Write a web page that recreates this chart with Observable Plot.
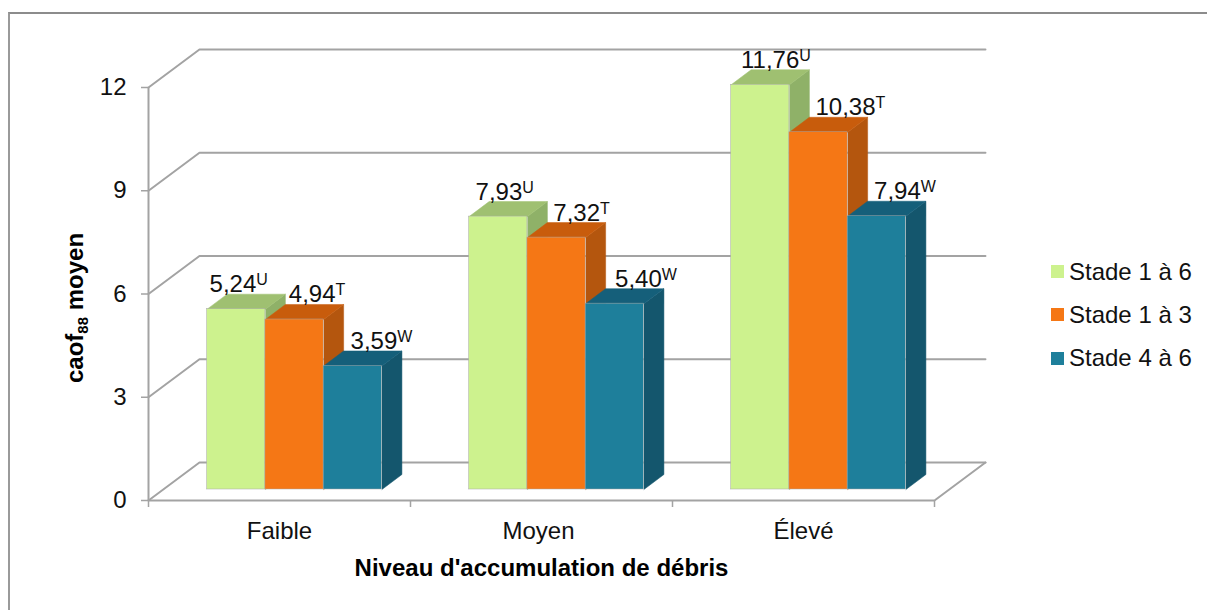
<!DOCTYPE html>
<html lang="fr">
<head>
<meta charset="utf-8">
<script src="https://cdn.jsdelivr.net/npm/d3@7"></script>
<script src="https://cdn.jsdelivr.net/npm/@observablehq/plot@0.6"></script>
<style>
  html, body { margin: 0; padding: 0; background: #fff; }
  #wrap { position: relative; width: 1207px; height: 610px; overflow: hidden; font-family: "Liberation Sans", Arial, sans-serif; }
  #frame { position: absolute; left: 8px; top: 12px; right: 0; bottom: 0; border-top: 2px solid #8c8c8c; border-left: 2px solid #9a9a9a; pointer-events: none; }
  #chart { position: absolute; left: 0; top: 0; }
  #chart svg { display: block; }
  #legend { position: absolute; left: 1051px; top: 250px; font-size: 24px; color: #111; }
  #legend div { display: flex; align-items: center; height: 43.3px; white-space: nowrap; }
  #legend i { display: inline-block; width: 13px; height: 13px; margin-right: 5px; }
</style>
</head>
<body>
<div id="wrap">
  <div id="frame"></div>
  <div id="chart"></div>
  <div id="legend"></div>
</div>
<script>
const categories = ["Faible", "Moyen", "Élevé"];
const seriesNames = ["Stade 1 à 6", "Stade 1 à 3", "Stade 4 à 6"];
const stade1a6 = [5.24, 7.93, 11.76];
const stade1a3 = [4.94, 7.32, 10.38];
const stade4a6 = [3.59, 5.40, 7.94];
const superscripts = ["U", "T", "W"];
const yTicks = [0, 3, 6, 9, 12];

const seriesValues = [stade1a6, stade1a3, stade4a6];
const frontColors = ["#cdf28e", "#f57715", "#1e7f9b"];
const topColors = ["#9fc071", "#c85c0c", "#155f7a"];
const sideColors = ["#8fb168", "#b4560e", "#14566d"];

// Oblique projection of the chart's depth axis, expressed in data units
const pxX = 262.2, pxY = 34.42;
const wall = {dx: 51 / pxX, dy: 38 / pxY};      // floor/wall depth
const base = {dx: 14 / pxX, dy: 11 / pxY};      // bars sit this far into the floor
const depth = {dx: 20 / pxX, dy: 15 / pxY};     // depth of a bar
const barStart = 58.7 / pxX, barWidth = 58.3 / pxX;
// Horizontal shift of each data label from its bar's top centre (series × category)
const labelNudge = [[0, 4, 19], [21, 23.5, 37], [24.5, 27, 24]];
const categoryNudge = [0, -3, 0];

const bars = seriesValues.map((vals, s) => vals.map((v, c) => {
  const x0 = c + barStart + s * barWidth;
  const x1 = x0 + barWidth;
  return {s, c, v, x0, x1, y0: base.dy, y1: base.dy + v};
}));

function poly(points, fill) {
  return Plot.line(points, {x: "0", y: "1", fill, stroke: fill, strokeWidth: 0.5, curve: "linear"});
}

const gridColor = "#a3a3a3";
const [xMax, yMax] = [categories.length, 12];
const tickX = 7 / pxX, tickY = 7 / pxY;

const gridMarks = yTicks.map(t =>
  Plot.line([[0, t], [wall.dx, t + wall.dy], [xMax + wall.dx, t + wall.dy]],
    {x: "0", y: "1", stroke: gridColor, strokeWidth: 2, curve: "linear"})
);

const barMarks = seriesValues.flatMap((_, s) => bars[s].flatMap(b => [
  poly([[b.x1, b.y0], [b.x1 + depth.dx, b.y0 + depth.dy], [b.x1 + depth.dx, b.y1 + depth.dy], [b.x1, b.y1]], sideColors[s]),
  poly([[b.x0, b.y1], [b.x0 + depth.dx, b.y1 + depth.dy], [b.x1 + depth.dx, b.y1 + depth.dy], [b.x1, b.y1]], topColors[s]),
  Plot.rect([b], {x1: "x0", x2: "x1", y1: "y0", y2: "y1", fill: frontColors[s], stroke: "#a8a8a8", strokeWidth: 0.5})
]));

const labelRows = bars.flat().map(b => ({
  x: (b.x0 + b.x1) / 2 + depth.dx + labelNudge[b.s][b.c] / pxX,
  y: b.y1 + depth.dy,
  text: d3.format(".2f")(b.v).replace(".", ","),
  sup: superscripts[b.s]
}));

const plot = Plot.plot({
  width: 1207,
  height: 610,
  marginLeft: 148,
  marginRight: 273,
  marginTop: 87,
  marginBottom: 110,
  style: {background: "transparent", fontFamily: "'Liberation Sans', Arial, sans-serif", overflow: "visible"},
  x: {domain: [0, xMax], axis: null},
  y: {domain: [0, yMax], axis: null},
  marks: [
    ...gridMarks,
    // floor front edge and right edge
    Plot.line([[0, 0], [xMax, 0], [xMax + wall.dx, wall.dy]], {x: "0", y: "1", stroke: gridColor, strokeWidth: 2, curve: "linear"}),
    // vertical axis and its ticks
    Plot.ruleX([0], {y1: 0, y2: yMax, stroke: gridColor, strokeWidth: 2}),
    Plot.ruleY(yTicks, {x1: -tickX, x2: 0, stroke: gridColor, strokeWidth: 1.5}),
    Plot.ruleX(d3.range(0, xMax + 1), {y1: -tickY, y2: 0, stroke: gridColor, strokeWidth: 1.5}),
    // tick labels and axis titles
    Plot.text(yTicks, {x: 0, y: d => d, text: d => String(d), textAnchor: "end", dx: -22, fontSize: 24, fill: "#111"}),
    Plot.text(categories, {x: (_, i) => i + 0.5 + categoryNudge[i] / pxX, y: 0, text: d => d, fontSize: 24, fill: "#111", lineAnchor: "bottom", dy: 38}),
    Plot.text(["Niveau d'accumulation de débris"], {x: xMax / 2, y: 0, text: d => d, fontSize: 24, fontWeight: "bold", fill: "#000", lineAnchor: "bottom", dy: 75}),
    ...barMarks,
    Plot.text(labelRows, {x: "x", y: "y", text: "text", textAnchor: "end", lineAnchor: "bottom", dy: -2, fontSize: 24, fill: "#111"}),
    Plot.text(labelRows, {x: "x", y: "y", text: "sup", textAnchor: "start", lineAnchor: "bottom", dy: -9, fontSize: 16, fill: "#111"})
  ]
});
document.getElementById("chart").appendChild(plot);

// Vertical axis title with its subscript
const yTitle = d3.select(plot).append("text")
  .attr("transform", "translate(83,308) rotate(-90)")
  .attr("text-anchor", "middle")
  .attr("font-size", 24)
  .attr("font-weight", "bold")
  .attr("fill", "#000");
yTitle.append("tspan").text("caof");
yTitle.append("tspan").attr("font-size", 15).attr("dy", 5).text("88");
yTitle.append("tspan").attr("dy", -5).text(" moyen");

const legend = d3.select("#legend");
seriesNames.forEach((name, i) => {
  const row = legend.append("div");
  row.append("i").style("background", frontColors[i]);
  row.append("span").text(name);
});
</script>
</body>
</html>
